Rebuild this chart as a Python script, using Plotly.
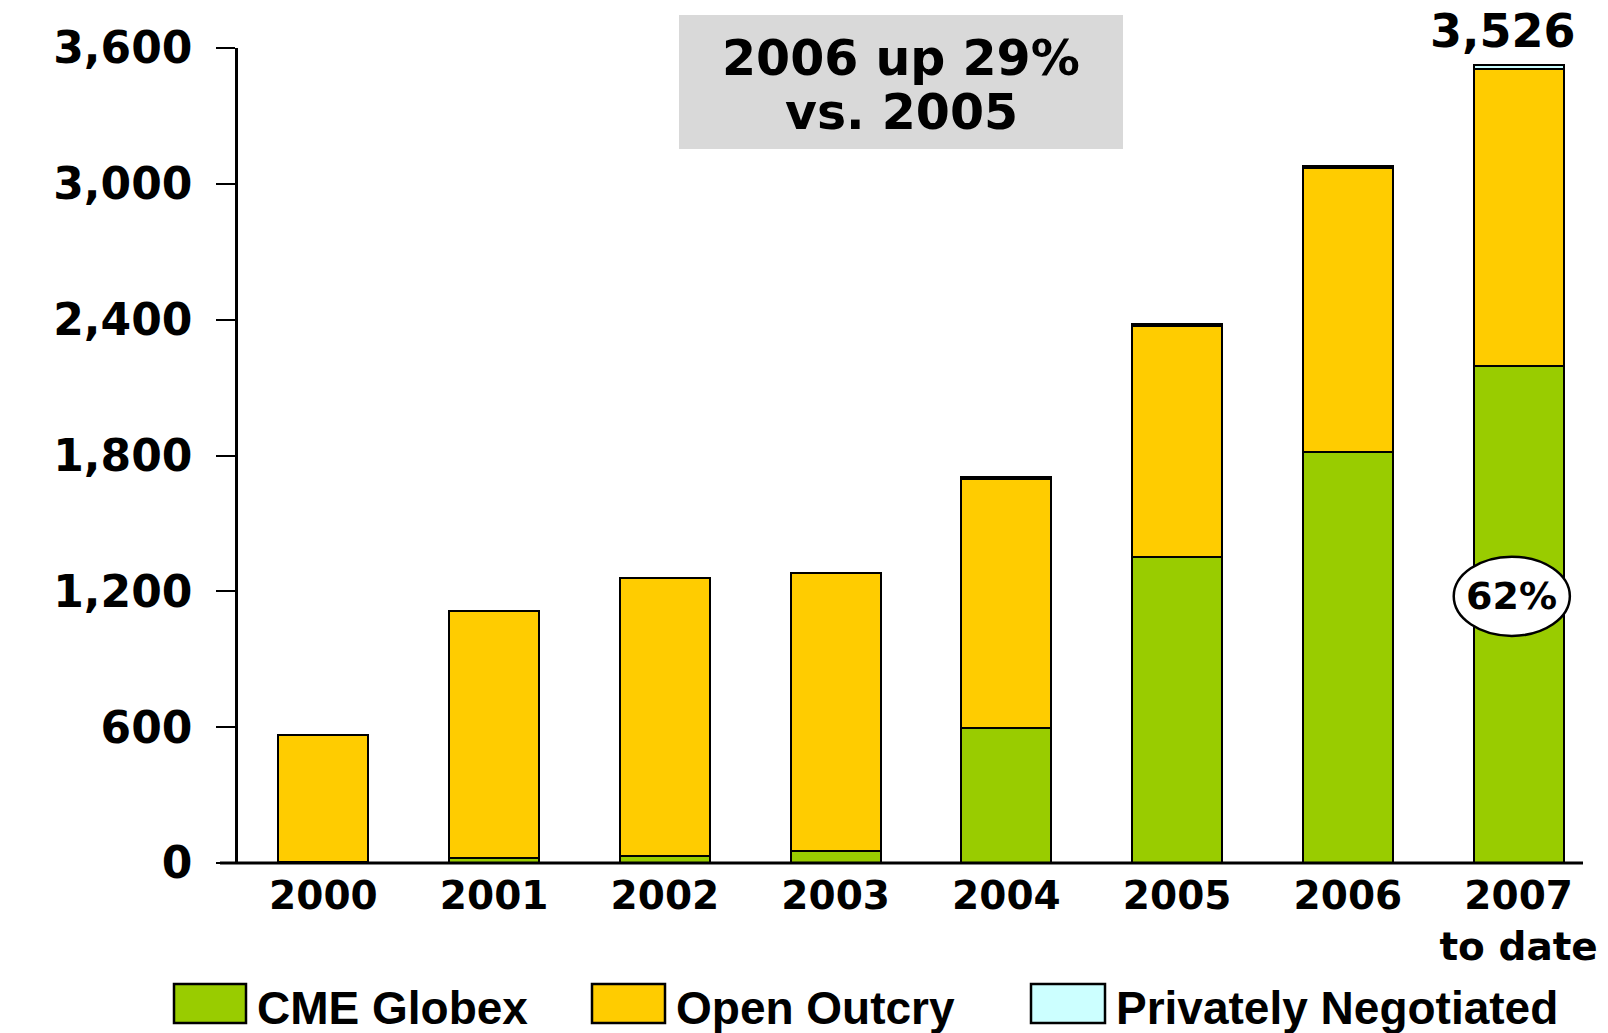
import plotly.graph_objects as go

# ---- data ----
years = ["2000", "2001", "2002", "2003", "2004", "2005", "2006", "2007<br>to date"]
cme_globex = [5, 22, 32, 51, 598, 1351, 1814, 2195]
open_outcry = [562, 1089, 1228, 1232, 1100, 1021, 1257, 1311]
privately_negotiated = [0, 0, 0, 0, 7, 8, 8, 20]
y_ticks = [0, 600, 1200, 1800, 2400, 3000, 3600]

series_names = ["CME Globex", "Open Outcry", "Privately Negotiated"]
series_colors = ["#99CC00", "#FFCC00", "#CCFFFF"]

totals = [a + b + c for a, b, c in zip(cme_globex, open_outcry, privately_negotiated)]
growth_pct = round((totals[6] / totals[5] - 1) * 100)
share_pct = round(cme_globex[-1] / totals[-1] * 100)

# ---- layout geometry (pixels) ----
W, H = 1608, 1033
PL, PR, PT, PB = 238, 1604, 48, 863


def px(x):
    return (x - PL) / (PR - PL)


def py(y):
    return (PB - y) / (PB - PT)


FONT = "DejaVu Sans"
LEGFONT = "Liberation Sans"

fig = go.Figure()
for name, vals, col in zip(series_names, [cme_globex, open_outcry, privately_negotiated], series_colors):
    fig.add_trace(go.Bar(
        x=list(range(len(years))), y=vals, name=name,
        marker=dict(color=col, line=dict(color="black", width=2)),
        showlegend=False,
    ))

shapes = []
annotations = []

# x axis baseline (shorter than plot area, as in reference)
shapes.append(dict(type="line", xref="paper", yref="paper",
                   x0=px(220), x1=px(1583), y0=0, y1=0,
                   line=dict(color="black", width=3), layer="above"))

# headline box
shapes.append(dict(type="rect", xref="paper", yref="paper",
                   x0=px(679), x1=px(1123), y0=py(149), y1=py(15),
                   fillcolor="#D9D9D9", line=dict(width=0), layer="below"))
annotations.append(dict(xref="paper", yref="paper", x=px(901), y=py(58),
                        text=f"{years[6]} up {growth_pct}%", showarrow=False,
                        xanchor="center", yanchor="middle",
                        font=dict(family=FONT, size=49, color="black", weight="bold")))
annotations.append(dict(xref="paper", yref="paper", x=px(901), y=py(113),
                        text=f"vs. {years[5]}", showarrow=False,
                        xanchor="center", yanchor="middle",
                        font=dict(family=FONT, size=49, color="black", weight="bold")))

# total label over last bar
annotations.append(dict(xref="x", yref="y", x=len(years) - 1, y=totals[-1],
                        text=f"{totals[-1]:,}", showarrow=False,
                        xanchor="center", yanchor="middle", xshift=-16, yshift=34,
                        font=dict(family=FONT, size=46, color="black", weight="bold")))

# share ellipse on last bar
shapes.append(dict(type="circle", xref="x", yref="y",
                   x0=6.62, x1=7.30, y0=1003, y1=1353,
                   fillcolor="white", line=dict(color="black", width=2.5), layer="above"))
annotations.append(dict(xref="x", yref="y", x=6.96, y=1178,
                        text=f"{share_pct}%", showarrow=False,
                        xanchor="center", yanchor="middle",
                        font=dict(family=FONT, size=38, color="black", weight="bold")))

# manual legend
leg_boxes = [(174, 246), (592, 665), (1031, 1105)]
for (x0, x1), name, col in zip(leg_boxes, series_names, series_colors):
    shapes.append(dict(type="rect", xref="paper", yref="paper",
                       x0=px(x0), x1=px(x1), y0=py(1023), y1=py(984),
                       fillcolor=col, line=dict(color="black", width=2.5)))
    annotations.append(dict(xref="paper", yref="paper", x=px(x1 + 9), y=py(1008),
                            text=name, showarrow=False,
                            xanchor="left", yanchor="middle",
                            font=dict(family=LEGFONT, size=46, color="black", weight="bold")))

fig.update_layout(
    width=W, height=H,
    margin=dict(l=PL, r=W - PR, t=PT, b=H - PB, pad=0),
    paper_bgcolor="white", plot_bgcolor="white",
    barmode="stack", bargap=0.473,
    shapes=shapes, annotations=annotations,
    xaxis=dict(
        tickmode="array", tickvals=list(range(len(years))), ticktext=years,
        range=[-0.5, len(years) - 0.5],
        showline=False, showgrid=False, zeroline=False, ticks="",
        ticklabelstandoff=6,
        tickfont=dict(family=FONT, size=39, color="black", weight="bold"),
    ),
    yaxis=dict(
        range=[0, 3600], tickmode="array", tickvals=y_ticks,
        tickformat=",", showgrid=False, zeroline=False,
        showline=True, linecolor="black", linewidth=2.5,
        ticks="outside", ticklen=19, tickwidth=2, tickcolor="black",
        ticklabelstandoff=15,
        tickfont=dict(family=FONT, size=44, color="black", weight="bold"),
    ),
    showlegend=False,
)

fig.write_html("out.html")
